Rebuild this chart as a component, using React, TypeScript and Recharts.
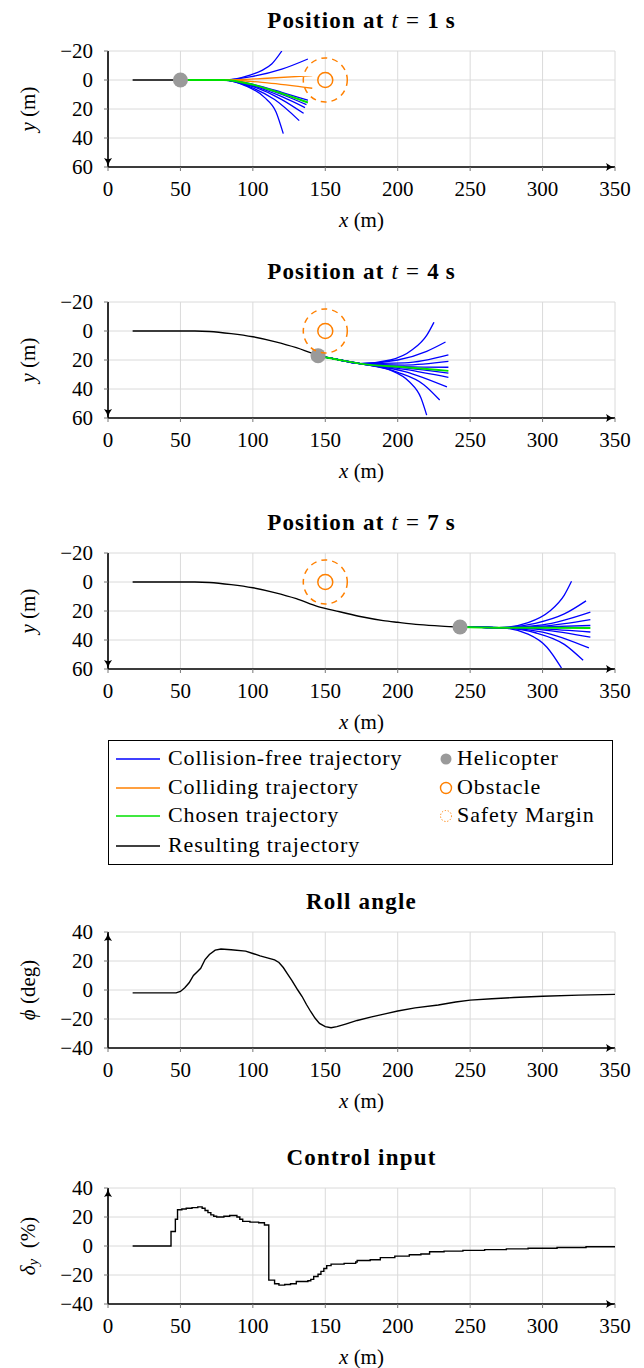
import React from "react";
import { ComposedChart, Line, Scatter, XAxis, YAxis, CartesianGrid } from "recharts";

type Pair = [number, number];

const FONT = "'Liberation Serif', 'Times New Roman', serif";
const BLUE = "#0000ff";
const ORANGE = "#ff8000";
const GREEN = "#00e000";
const GRAY = "#9a9a9a";
const GRID = "#dadada";

const xTicks = [0, 50, 100, 150, 200, 250, 300, 350];
const posTicks = [-20, 0, 20, 40, 60];
const angleTicks = [-40, -20, 0, 20, 40];

const obstacle: Pair = [150, 0];

// t = 1 s
const heliAt1: Pair = [50, 0];
const resultAt1: Pair[] = [[17, 0], [50, 0]];
const freeAt1: Pair[][] = [
  [[50, 0], [80, 0], [98, -3.4], [106, -6.5], [113, -11], [120, -20]],
  [[50, 0], [80, 0], [100, -2.5], [120, -7.5], [138, -14.5]],
  [[50, 0], [80, 0], [100, 3], [120, 8.5], [138, 14]],
  [[50, 0], [80, 0], [100, 3.5], [120, 10], [137, 17]],
  [[50, 0], [80, 0], [100, 4], [120, 11.5], [136, 19]],
  [[50, 0], [80, 0], [100, 4.5], [120, 13.5], [135, 23]],
  [[50, 0], [80, 0], [100, 5.5], [115, 13.5], [132, 28]],
  [[50, 0], [80, 0], [95, 4], [108, 12], [116, 22], [121, 37]],
];
const collidingAt1: Pair[][] = [
  [[50, 0], [80, 0], [110, -1.2], [141, -3]],
  [[50, 0], [80, 0], [110, 2], [141, 5.7]],
];
const chosenAt1: Pair[] = [[50, 0], [80, 0], [100, 3.2], [120, 9.3], [138, 15.5]];

// t = 4 s
const heliAt4: Pair = [145, 17];
const resultAt4: Pair[] = [
  [17, 0], [40, 0], [60, 0], [70, 0.3], [85, 1.8], [100, 4], [115, 7.3], [130, 11.5], [145, 17],
];
const freeAt4: Pair[][] = [
  [[145, 17], [160, 20], [174, 22.5], [195, 20], [210, 13], [220, 3], [225, -6]],
  [[145, 17], [160, 20], [174, 22.5], [200, 20], [220, 14], [233, 7.6]],
  [[145, 17], [160, 20], [174, 22.5], [205, 22], [235, 16.5]],
  [[145, 17], [160, 20], [174, 22.5], [205, 23.5], [235, 21]],
  [[145, 17], [160, 20], [174, 22.5], [205, 24.5], [235, 25]],
  [[145, 17], [160, 20], [174, 22.5], [205, 25.5], [235, 29]],
  [[145, 17], [160, 20], [174, 22.5], [205, 26.5], [235, 32]],
  [[145, 17], [160, 20], [174, 22.5], [205, 28], [234, 38.6]],
  [[145, 17], [160, 20], [174, 22.5], [200, 28.5], [218, 37], [229, 47.6]],
  [[145, 17], [160, 20], [174, 22.5], [195, 27], [208, 35], [216, 46], [220, 58]],
];
const chosenAt4: Pair[] = [[145, 17], [160, 20], [174, 22.5], [205, 25], [235, 27.5]];

// t = 7 s
const heliAt7: Pair = [243, 31];
const resultAt7: Pair[] = [
  [17, 0], [40, 0], [60, 0], [70, 0.3], [85, 1.8], [100, 4], [115, 7.3], [130, 11.5], [145, 17],
  [160, 20.5], [175, 24], [190, 26.6], [200, 27.8], [215, 29.4], [230, 30.4], [243, 31],
];
const freeAt7: Pair[][] = [
  [[243, 31], [258, 31.3], [270, 31.5], [290, 28], [305, 20], [315, 9], [320, -0.5]],
  [[243, 31], [258, 31.3], [270, 31.5], [295, 28.5], [315, 22], [330, 13]],
  [[243, 31], [258, 31.3], [270, 31.5], [300, 29.5], [333, 20.7]],
  [[243, 31], [258, 31.3], [270, 31.5], [300, 30.5], [333, 26]],
  [[243, 31], [258, 31.3], [270, 31.5], [300, 31], [333, 30]],
  [[243, 31], [258, 31.3], [270, 31.5], [300, 32.3], [333, 34.5]],
  [[243, 31], [258, 31.3], [270, 31.5], [300, 33], [333, 38]],
  [[243, 31], [258, 31.3], [270, 31.5], [300, 34.5], [332, 45.5]],
  [[243, 31], [258, 31.3], [270, 31.5], [295, 35], [315, 43], [328, 54]],
  [[243, 31], [258, 31.3], [270, 31.5], [290, 36], [303, 45], [313, 59.3]],
];
const chosenAt7: Pair[] = [[243, 31], [258, 31.3], [270, 31.5], [300, 31.6], [333, 31.7]];

const rollAngle: Pair[] = [
  [17, -2], [30, -2], [47, -2], [50, -1], [53, 1.5], [56, 5], [59, 10], [62, 13], [64, 15],
  [67, 21], [70, 24.5], [74, 27.5], [78, 28.3], [85, 27.8], [95, 26.8], [100, 25.2], [105, 23.5],
  [110, 22.2], [115, 20.8], [118, 19], [121, 15.5], [124, 11], [127, 6.5], [131, 0], [134, -4.5],
  [137, -10], [140, -15], [143, -19.5], [146, -23], [150, -25.3], [154, -26], [158, -25.3],
  [164, -23.5], [172, -21], [182, -18.5], [192, -16.3], [200, -14.5], [212, -12.3], [228, -10.3],
  [240, -8.3], [250, -7], [265, -6], [280, -5.2], [300, -4.3], [325, -3.5], [350, -3],
];

const controlInput: Pair[] = [
  [17, 0], [43.5, 10], [46.5, 18.5], [48, 25], [51, 25.5], [54, 26], [58, 26.5], [62, 27],
  [65, 26], [67, 24.5], [69, 23], [71, 21.5], [73, 20.5], [75, 20], [80, 20.5], [84, 21],
  [89, 20], [91, 18.5], [93, 17], [98, 16.5], [104, 16], [108, 14.5], [111, -23.5], [115, -26],
  [118, -27], [122, -26.5], [126, -26], [130, -24.5], [138, -24], [140, -23], [142, -21],
  [145, -19.5], [147, -17.5], [149, -15.5], [151, -13.5], [154, -12.5], [163, -12], [171, -11],
  [172, -10], [181, -9.5], [188, -8], [198, -7], [208, -6], [216, -5.5], [222, -4], [232, -3.5],
  [245, -3], [260, -2.5], [275, -2], [290, -1.5], [310, -1], [330, -0.5], [350, -0.3],
];

const legendLines = [
  { label: "Collision-free trajectory", color: BLUE },
  { label: "Colliding trajectory", color: ORANGE },
  { label: "Chosen trajectory", color: GREEN },
  { label: "Resulting trajectory", color: "#000" },
];

const toPts = (a: Pair[]) => a.map(([x, y]) => ({ x, y }));
const fmt = (v: number) => (v < 0 ? `\u2212${-v}` : `${v}`);

const PLOT_H = 116;
const MT = 51;
const CH = 250;

const tickStyle = { fill: "#000", fontSize: 21, fontFamily: FONT };

function xLabel() {
  return (
    <text x={361.5} y={MT + PLOT_H + 60} textAnchor="middle" fontSize={21} fontFamily={FONT} fill="#000">
      <tspan fontStyle="italic">x</tspan>
      <tspan> (m)</tspan>
    </text>
  );
}

function yLabel(content: React.ReactNode) {
  const cy = MT + PLOT_H / 2;
  return () => (
    <text x={28} y={cy} transform={`rotate(-90, 28, ${cy})`} textAnchor="middle" dominantBaseline="central"
      fontSize={21} fontFamily={FONT} fill="#000">
      {content}
    </text>
  );
}

function Title({ top, children }: { top: number; children: React.ReactNode }) {
  return (
    <div style={{
      position: "absolute", left: 108, width: 507, top: top - 43, height: 26, lineHeight: "26px",
      textAlign: "center", fontFamily: FONT, fontSize: 23, fontWeight: "bold", letterSpacing: "1.2px",
    }}>
      {children}
    </div>
  );
}

function Panel({ top, yTicks, yDomain, reversed, yLab, children }: {
  top: number; yTicks: number[]; yDomain: [number, number]; reversed?: boolean;
  yLab: React.ReactNode; children: React.ReactNode;
}) {
  return (
    <div style={{ position: "absolute", left: 0, top, width: 644, height: CH }}>
      <ComposedChart width={644} height={CH} margin={{ top: MT, right: 29, bottom: 0, left: 0 }}>
        <CartesianGrid stroke={GRID} strokeWidth={1} />
        <XAxis type="number" dataKey="x" domain={[0, 350]} ticks={xTicks} allowDataOverflow interval={0}
          height={CH - MT - PLOT_H} tick={tickStyle} tickSize={4} tickMargin={10}
          tickLine={{ stroke: "#777" }} axisLine={{ stroke: "#000", strokeWidth: 1.6, markerEnd: "url(#arr)" }}
          label={xLabel} />
        <YAxis type="number" dataKey="y" domain={yDomain} ticks={yTicks} allowDataOverflow reversed={reversed}
          interval={0} width={108} tick={tickStyle} tickSize={4} tickMargin={11} tickFormatter={fmt}
          tickLine={{ stroke: "#777" }}
          axisLine={reversed
            ? { stroke: "#000", strokeWidth: 1.6, markerEnd: "url(#arr)" }
            : { stroke: "#000", strokeWidth: 1.6, markerStart: "url(#arr)" }}
          label={yLabel(yLab)} />
        {children}
      </ComposedChart>
    </div>
  );
}

const heliShape = (p: any) => <circle cx={p.cx} cy={p.cy} r={7.5} fill={GRAY} />;
const obstacleShape = (p: any) => <circle cx={p.cx} cy={p.cy} r={7.5} fill="none" stroke={ORANGE} strokeWidth={1.5} />;
const marginShape = (p: any) => (
  <circle cx={p.cx} cy={p.cy} r={22} fill="none" stroke={ORANGE} strokeWidth={1.5} strokeDasharray="6 5" />
);

function trajectory(result: Pair[], heli: Pair, free: Pair[][], colliding: Pair[][], chosen: Pair[], key: string) {
  const line = (d: Pair[], color: string, w: number, k: string) => (
    <Line key={k} data={toPts(d)} dataKey="y" type="monotone" stroke={color} strokeWidth={w}
      dot={false} activeDot={false} isAnimationActive={false} />
  );
  return [
    line(result, "#000", 1.4, `${key}-res`),
    <Scatter key={`${key}-heli`} data={toPts([heli])} dataKey="y" shape={heliShape} isAnimationActive={false} />,
    ...free.map((d, i) => line(d, BLUE, 1.3, `${key}-f${i}`)),
    ...colliding.map((d, i) => line(d, ORANGE, 1.3, `${key}-c${i}`)),
    line(chosen, GREEN, 2, `${key}-ch`),
    <Scatter key={`${key}-obs`} data={toPts([obstacle])} dataKey="y" shape={obstacleShape} isAnimationActive={false} />,
    <Scatter key={`${key}-mar`} data={toPts([obstacle])} dataKey="y" shape={marginShape} isAnimationActive={false} />,
  ];
}

const posLabel = (
  <>
    <tspan fontStyle="italic">y</tspan>
    <tspan> (m)</tspan>
  </>
);

function PosTitle({ top, t }: { top: number; t: number }) {
  return (
    <Title top={top}>
      Position at <i style={{ fontWeight: "normal" }}>t</i>{" "}
      <span style={{ fontWeight: "normal" }}>=</span> {t}&thinsp;s
    </Title>
  );
}

function LegendBox() {
  const rowY = [758, 787, 815, 845].map((y) => y - 740);
  const text: React.CSSProperties = {
    position: "absolute", fontFamily: FONT, fontSize: 22, lineHeight: "24px", whiteSpace: "nowrap",
    letterSpacing: "0.9px",
  };
  return (
    <div style={{ position: "absolute", left: 108, top: 740, width: 505, height: 125, border: "1px solid #000", boxSizing: "border-box" }}>
      <svg style={{ position: "absolute", left: 0, top: 0 }} width={60} height={120}>
        {legendLines.map((e, i) => (
          <line key={e.label} x1={7} x2={51} y1={rowY[i]} y2={rowY[i]} stroke={e.color} strokeWidth={1.4} />
        ))}
      </svg>
      {legendLines.map((e, i) => (
        <div key={e.label} style={{ ...text, left: 59, top: rowY[i] - 13 }}>{e.label}</div>
      ))}
      <svg style={{ position: "absolute", left: 328, top: 0 }} width={20} height={100}>
        <circle cx={9} cy={rowY[0]} r={5.5} fill={GRAY} />
        <circle cx={9} cy={rowY[1]} r={5.5} fill="none" stroke={ORANGE} strokeWidth={1.4} />
        <circle cx={9} cy={rowY[2]} r={5.5} fill="none" stroke={ORANGE} strokeWidth={1} strokeDasharray="1.2 1.8" />
      </svg>
      {["Helicopter", "Obstacle", "Safety Margin"].map((l, i) => (
        <div key={l} style={{ ...text, left: 348, top: rowY[i] - 13 }}>{l}</div>
      ))}
    </div>
  );
}

export default function App() {
  return (
    <div style={{ position: "absolute", left: 0, top: 0, width: 644, height: 1368, background: "#fff", fontFamily: FONT }}>
      <svg width={0} height={0} style={{ position: "absolute" }}>
        <defs>
          <marker id="arr" viewBox="0 0 10 10" refX={10} refY={5} markerWidth={9} markerHeight={9}
            markerUnits="userSpaceOnUse" orient="auto-start-reverse">
            <path d="M0,0.5 Q4,4 10,5 Q4,6 0,9.5 Q2.5,5 0,0.5 Z" fill="#000" />
          </marker>
        </defs>
      </svg>

      <PosTitle top={51} t={1} />
      <Panel top={0} yTicks={posTicks} yDomain={[-20, 60]} reversed yLab={posLabel}>
        {trajectory(resultAt1, heliAt1, freeAt1, collidingAt1, chosenAt1, "p1")}
      </Panel>

      <PosTitle top={302} t={4} />
      <Panel top={251} yTicks={posTicks} yDomain={[-20, 60]} reversed yLab={posLabel}>
        {trajectory(resultAt4, heliAt4, freeAt4, [], chosenAt4, "p4")}
      </Panel>

      <PosTitle top={553} t={7} />
      <Panel top={502} yTicks={posTicks} yDomain={[-20, 60]} reversed yLab={posLabel}>
        {trajectory(resultAt7, heliAt7, freeAt7, [], chosenAt7, "p7")}
      </Panel>

      <LegendBox />

      <Title top={932}>Roll angle</Title>
      <Panel top={881} yTicks={angleTicks} yDomain={[-40, 40]}
        yLab={<><tspan fontStyle="italic">ϕ</tspan><tspan> (deg)</tspan></>}>
        <Line data={toPts(rollAngle)} dataKey="y" type="linear" stroke="#000" strokeWidth={1.4}
          dot={false} activeDot={false} isAnimationActive={false} />
      </Panel>

      <Title top={1188}>Control input</Title>
      <Panel top={1137} yTicks={angleTicks} yDomain={[-40, 40]}
        yLab={<><tspan fontStyle="italic">δ</tspan><tspan fontStyle="italic" fontSize={15} dy={5}>y</tspan><tspan dy={-5}>{"\u2002(%)"}</tspan></>}>
        <Line data={toPts(controlInput)} dataKey="y" type="stepAfter" stroke="#000" strokeWidth={1.4}
          dot={false} activeDot={false} isAnimationActive={false} />
      </Panel>
    </div>
  );
}
